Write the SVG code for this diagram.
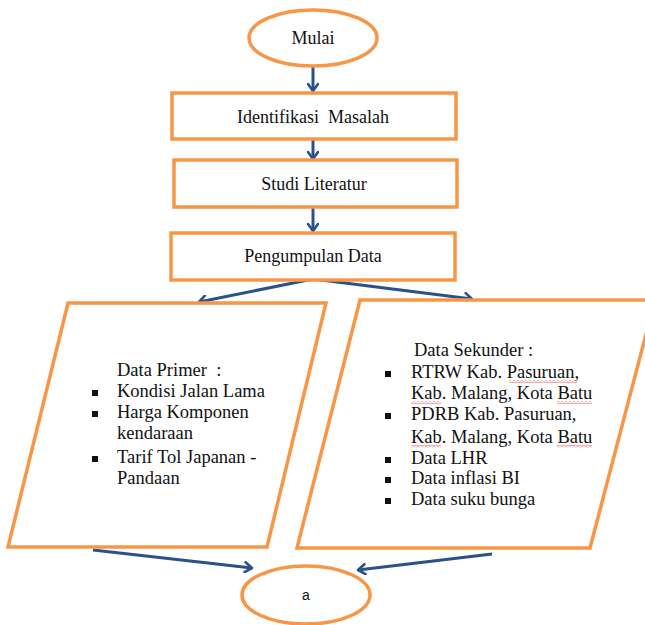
<svg xmlns="http://www.w3.org/2000/svg" width="645" height="625" viewBox="0 0 645 625">
<defs>
<marker id="ah" markerWidth="12" markerHeight="12" refX="9" refY="6" orient="auto" markerUnits="userSpaceOnUse">
<polyline points="2,1 9,6 2,11" fill="none" stroke="#2A5189" stroke-width="2.6" stroke-linecap="round" stroke-linejoin="round"/>
</marker>
<pattern id="wave" width="4" height="3" patternUnits="userSpaceOnUse">
<polyline points="0,0.5 2,2.5 4,0.5" fill="none" stroke="#E03030" stroke-width="0.8"/>
</pattern>
<style>
.sh{fill:#fff;stroke:#F79646;stroke-width:3.5}
.t{font-family:'Liberation Serif','Times New Roman',serif;font-size:18px;fill:#111}
.l{font-size:18.5px}
.c{text-anchor:middle}
.con{stroke:#2A5189;stroke-width:3;fill:none;marker-end:url(#ah)}
.b{fill:#111}
.w{fill:url(#wave)}
</style>
</defs>
<rect width="645" height="625" fill="#fff"/>
<g id="connectors">
<line class="con" x1="313" y1="65" x2="313" y2="91"/>
<line class="con" x1="313" y1="139" x2="313" y2="159"/>
<line class="con" x1="313" y1="207" x2="313" y2="231"/>
<line class="con" x1="313" y1="279" x2="199" y2="302"/>
<line class="con" x1="313" y1="279" x2="472" y2="299"/>
<line class="con" x1="93" y1="550" x2="252" y2="568"/>
<line class="con" x1="492" y1="554" x2="358" y2="570"/>
</g>
<g id="mulai">
<ellipse class="sh" cx="313" cy="38" rx="64" ry="28"/>
<text class="t c" x="313" y="44">Mulai</text>
</g>
<g id="identifikasi">
<rect class="sh" x="172" y="93" width="284" height="46"/>
<text class="t c" x="313" y="123" xml:space="preserve">Identifikasi  Masalah</text>
</g>
<g id="studi">
<rect class="sh" x="174" y="160" width="283" height="47"/>
<text class="t c" x="314" y="190">Studi Literatur</text>
</g>
<g id="pengumpulan">
<rect class="sh" x="171" y="233" width="284" height="47"/>
<text class="t c" x="313" y="262">Pengumpulan Data</text>
</g>
<g id="primer">
<polygon class="sh" points="68,303 326,303 267,547 8,547"/>
<text class="t l" x="117" y="376" xml:space="preserve">Data Primer  :</text>
<rect class="b" x="92" y="390" width="6" height="6"/>
<text class="t l" x="117" y="397">Kondisi Jalan Lama</text>
<rect class="b" x="92" y="411" width="6" height="6"/>
<text class="t l" x="117" y="418">Harga Komponen</text>
<text class="t l" x="117" y="439">kendaraan</text>
<rect class="b" x="92" y="456" width="6" height="6"/>
<text class="t l" x="117" y="463">Tarif Tol Japanan -</text>
<text class="t l" x="117" y="484">Pandaan</text>
</g>
<g id="sekunder">
<polygon class="sh" points="360,300 655,300 590,548 297,548"/>
<text class="t l" x="414" y="356">Data Sekunder :</text>
<rect class="b" x="385" y="371" width="6" height="6"/>
<text class="t l" x="411" y="378">RTRW Kab. Pasuruan,</text>
<rect class="w" x="509" y="380" width="68" height="3"/>
<text class="t l" x="411" y="399">Kab. Malang, Kota Batu</text>
<rect class="w" x="411" y="401" width="30" height="3"/>
<rect class="w" x="557" y="401" width="35" height="3"/>
<rect class="b" x="385" y="413" width="6" height="6"/>
<text class="t l" x="411" y="420">PDRB Kab. Pasuruan,</text>
<text class="t l" x="411" y="443">Kab. Malang, Kota Batu</text>
<rect class="w" x="411" y="445" width="30" height="3"/>
<rect class="w" x="557" y="445" width="35" height="3"/>
<rect class="b" x="385" y="457" width="6" height="6"/>
<text class="t l" x="411" y="464">Data LHR</text>
<rect class="b" x="385" y="477" width="6" height="6"/>
<text class="t l" x="411" y="484">Data inflasi BI</text>
<rect class="b" x="385" y="498" width="6" height="6"/>
<text class="t l" x="411" y="505">Data suku bunga</text>
</g>
<g id="a">
<ellipse class="sh" cx="306" cy="595" rx="64" ry="29"/>
<text x="306" y="600" text-anchor="middle" font-family="'Liberation Sans', Arial, sans-serif" font-size="14" fill="#111">a</text>
</g>
</svg>
